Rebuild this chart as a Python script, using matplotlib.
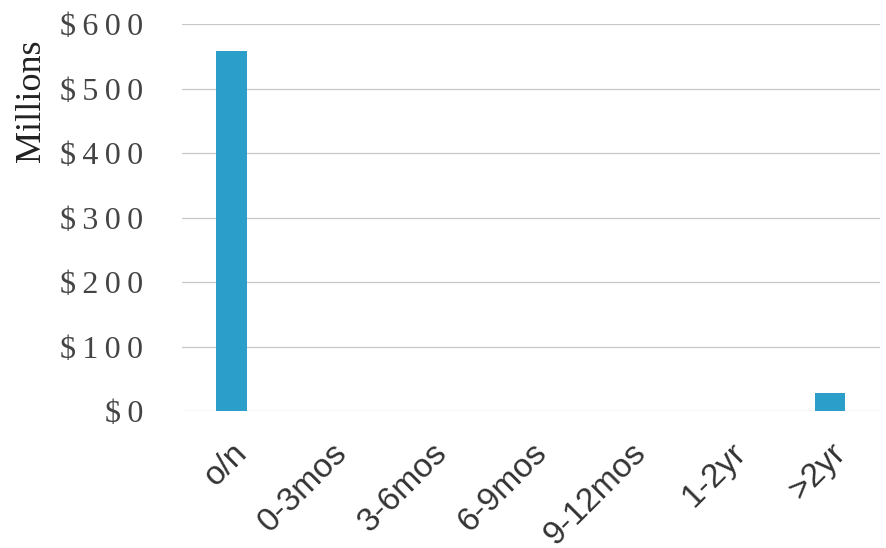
import numpy as np
import matplotlib
matplotlib.use("Agg")
from matplotlib import pyplot as plt
from matplotlib.ticker import FuncFormatter

categories = ['o/n', '0-3mos', '3-6mos', '6-9mos', '9-12mos', '1-2yr', '>2yr']
values = [558, 0, 0, 0, 0, 0, 28]
y_ticks = [0, 100, 200, 300, 400, 500, 600]


def money(v, pos):
    # spaced-out digits like the scanned original
    return '\u2009'.join('$' + str(int(v)))


if __name__ == "__main__":
    fig = plt.figure(figsize=(8.86, 5.48), dpi=100)
    ax = fig.add_axes([0.2054, 0.25, 0.7876, 0.706])

    x = np.arange(len(categories))
    ax.bar(x, values, width=0.31, color='#2b9fca', zorder=3)

    ax.set_xlim(-0.5, len(categories) - 0.5)
    ax.set_ylim(0, 600)
    ax.set_yticks(y_ticks)
    ax.yaxis.set_major_formatter(FuncFormatter(money))
    ax.grid(axis='y', color='#c8c8c8', linewidth=0.9, zorder=0)
    for s in ax.spines.values():
        s.set_visible(False)
    ax.tick_params(axis='y', length=0, pad=28, labelsize=23, labelcolor='#444444')
    for t in ax.get_yticklabels():
        t.set_family(['Liberation Serif', 'DejaVu Serif'])

    ax.set_xticks(x)
    ax.set_xticklabels(categories, rotation=45, ha='right', rotation_mode='anchor',
                       fontsize=24, color='#333333', family='Liberation Sans')
    ax.tick_params(axis='x', length=0, pad=19)

    fig.text(32 / 886, 1 - 101 / 548, 'Millions', rotation=90, ha='center', va='center',
             fontsize=26, color='#222222', family='Liberation Serif')

    fig.savefig('out.png', dpi=100)
